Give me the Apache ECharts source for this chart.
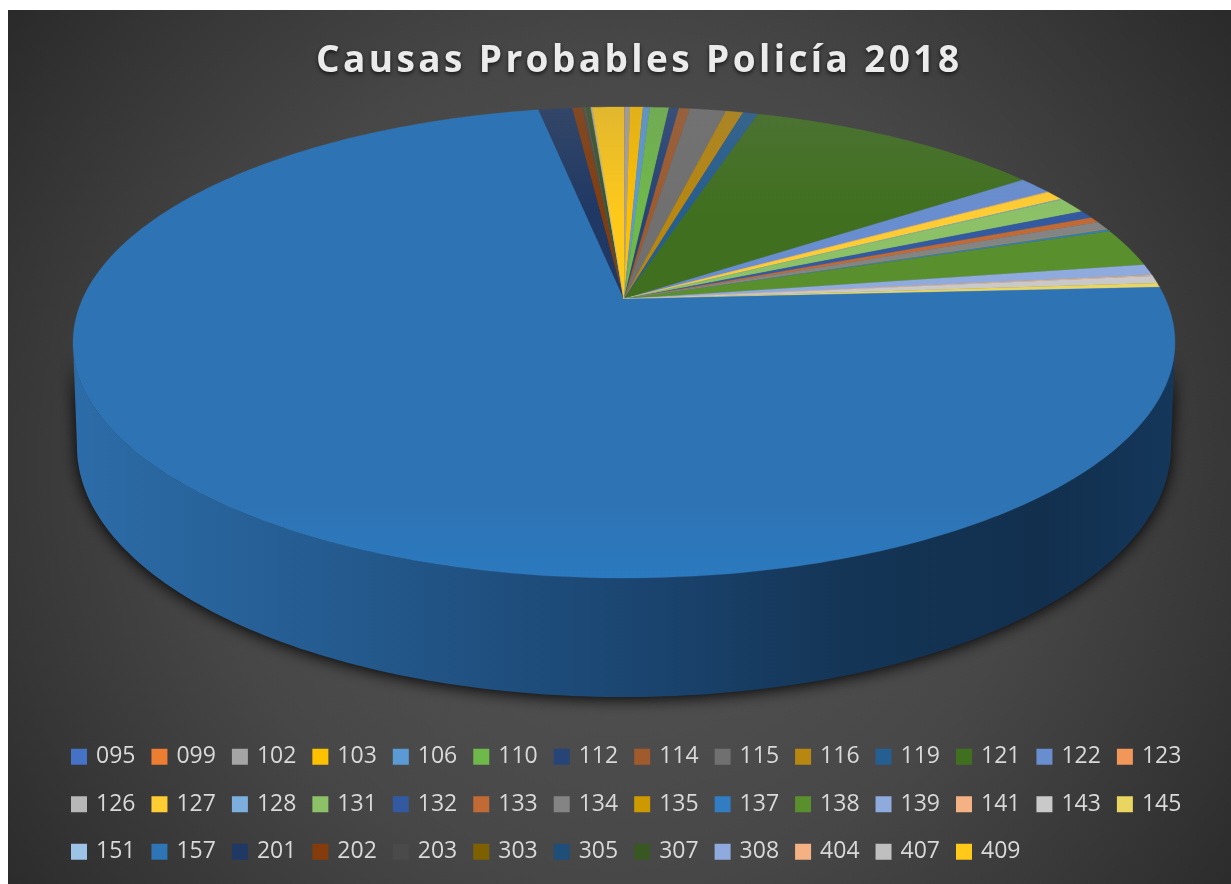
<!DOCTYPE html>
<html>
<head>
<meta charset="utf-8">
<style>html,body{margin:0;padding:0;background:#fff}#c{width:1231px;height:884px}</style>
<script src="https://cdn.jsdelivr.net/npm/echarts@6/dist/echarts.min.js"></script>
</head>
<body>
<div id="c"></div>
<script>
const categories = ['095','099','102','103','106','110','112','114','115','116','119','121','122','123',
  '126','127','128','131','132','133','134','135','137','138','139','141','143','145',
  '151','157','201','202','203','303','305','307','308','404','407','409'];
// share of the pie in percent
const shares = [0.014,0.014,0.18,0.456,0.242,0.664,0.347,0.383,1.267,0.603,0.533,10.464,1.194,0.028,
  0.028,0.639,0.056,1.083,0.556,0.389,0.583,0.028,0.139,2.639,0.75,0.083,0.5,0.278,
  0.028,72.83,1.189,0.347,0.083,0.028,0.028,0.147,0.028,0.014,0.014,1.106];
const colors = ['#4472c4','#ed7d31','#a5a5a5','#ffc000','#5b9bd5','#6fb94a','#264478','#a05a2c','#707070','#b8870f','#255e91','#40701f','#698ed0','#f1975a',
  '#b7b7b7','#ffcd33','#7cafdd','#8cc168','#335aa1','#c26a35','#848484','#cc9a00','#327dc2','#5a8f2e','#8faadc','#f4b183','#c9c9c9','#e8d660',
  '#9dc3e6','#2e75b6','#1f3864','#843c0c','#4a4a4a','#7f6000','#1f4e79','#385723','#8faadc','#f4b183','#bfbfbf','#ffc91a'];
const titleText = 'Causas Probables Policía 2018';

// the title is tracked out: only that string gets canvas letter spacing
const nativeFillText = CanvasRenderingContext2D.prototype.fillText;
CanvasRenderingContext2D.prototype.fillText = function (text, x, y, w) {
  this.letterSpacing = text === titleText ? '3.4px' : '0px';
  return w === undefined ? nativeFillText.call(this, text, x, y) : nativeFillText.call(this, text, x, y, w);
};

const total = shares.reduce((a, b) => a + b, 0);
const starts = [];
shares.reduce((acc, v, i) => { starts[i] = acc; return acc + v; }, 0);

// perspective view of the disc
const K = -0.1847, CX = 624;
const TOP = { a: 541.5, b: 227.5, y0: 299 };
const LOW = { a: 537.6, b: 241.5, y0: 400.8 };
function project(deg, p) {
  const t = deg * Math.PI / 180, x = Math.sin(t), y = -Math.cos(t), w = 1 + K * y;
  return [CX + p.a * x / w, p.y0 + p.b * y / w];
}
function arc(from, to, p) {
  const n = Math.max(2, Math.ceil(Math.abs(to - from))), pts = [];
  for (let i = 0; i <= n; i++) pts.push(project(from + (to - from) * i / n, p));
  return pts;
}
function mix(hex, amt) {
  const n = parseInt(hex.slice(1), 16), g = 120;
  const c = [n >> 16 & 255, n >> 8 & 255, n & 255].map(v => Math.round(v + (g - v) * amt));
  return 'rgb(' + c.join(',') + ')';
}
function gradV(y1, y2, stops) {
  return { type: 'linear', global: true, x: 0, y: y1, x2: 0, y2: y2, colorStops: stops };
}
const wallFill = { type: 'linear', global: true, x: 72, y: 0, x2: 1175, y2: 0, colorStops: [
  { offset: 0, color: '#2c6ca8' }, { offset: 0.25, color: '#245a8e' }, { offset: 0.5, color: '#1b4672' },
  { offset: 0.7, color: '#143556' }, { offset: 0.88, color: '#122f4e' }, { offset: 1, color: '#14375a' } ] };

function renderItem(params, api) {
  const i = params.seriesIndex, color = colors[i];
  const from = starts[i] / total * 360;
  const to = from + api.value(0) / total * 360;
  const top = [[CX, TOP.y0]].concat(arc(from, to, TOP));
  const children = [];
  const a = Math.max(from, 100.6), b = Math.min(to, 259.4);
  if (b > a) {
    const wall = arc(a, b, TOP).concat(arc(b, a, LOW));
    children.push({ type: 'polygon', shape: { points: wall },
      style: { fill: wallFill, shadowBlur: 16, shadowColor: 'rgba(0,0,0,0.95)', shadowOffsetY: 2 } });
  }
  const fill = (to - from) > 100
    ? gradV(107, 578, [{ offset: 0, color: '#2e73b3' }, { offset: 0.85, color: '#2e74b5' }, { offset: 1, color: '#2b79bf' }])
    : gradV(107, 215, [{ offset: 0, color: mix(color, 0.22) }, { offset: 1, color: color }]);
  children.push({ type: 'polygon', shape: { points: top },
    style: { fill: fill, stroke: fill, lineWidth: 0.3 } });
  return { type: 'group', children: children };
}

const chart = echarts.init(document.getElementById('c'), null, { renderer: 'canvas' });
chart.setOption({
  animation: false,
  backgroundColor: '#ffffff',
  graphic: [{ type: 'rect', z: -10, silent: true,
    shape: { x: 8, y: 10, width: 1223, height: 874 },
    style: { fill: { type: 'radial', x: 0.5, y: 0.52, r: 0.87, colorStops: [
      { offset: 0, color: '#575757' }, { offset: 0.55, color: '#474747' }, { offset: 0.82, color: '#363636' }, { offset: 1, color: '#2a2a2a' } ] } } }],
  title: { text: titleText, left: 316, top: 43, padding: 0,
    textStyle: { color: '#ebebeb', fontFamily: 'Open Sans', fontWeight: 'bold', fontSize: 37,
      textShadowColor: 'rgba(0,0,0,0.7)', textShadowBlur: 4, textShadowOffsetY: 2 } },
  legend: { type: 'plain', orient: 'horizontal', left: 71, top: 741, width: 1118, padding: 0,
    data: categories, icon: 'rect', itemWidth: 16, itemHeight: 16, itemGap: 16, selectedMode: false,
    textStyle: { color: '#d9d9d9', fontFamily: 'Open Sans', fontSize: 23, lineHeight: 31.5, padding: [0, 0, 0, 4] } },
  series: categories.map((name, i) => ({
    type: 'custom', name: name, coordinateSystem: 'none', renderItem: renderItem,
    itemStyle: { color: colors[i] }, data: [[shares[i]]], silent: true
  }))
});
</script>
</body>
</html>
